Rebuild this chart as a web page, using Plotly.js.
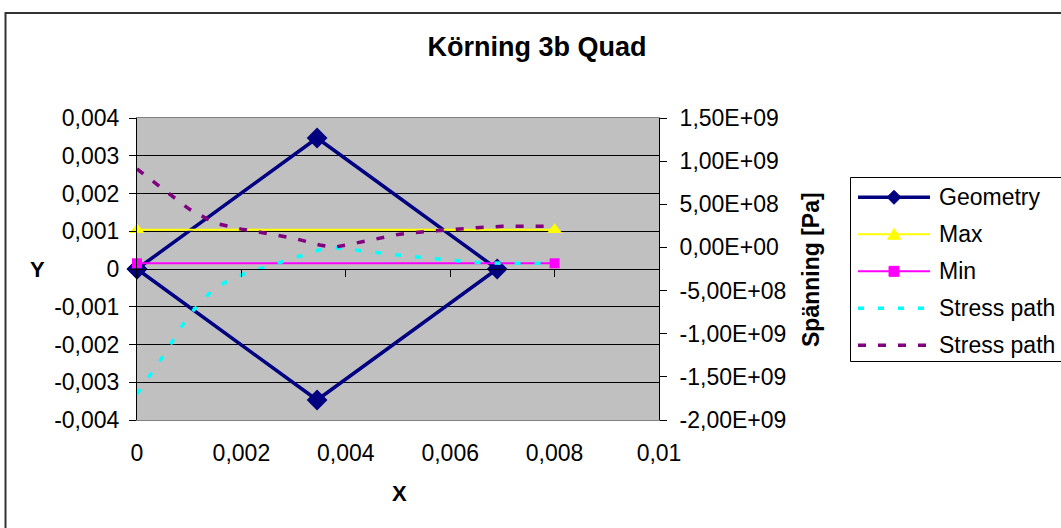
<!DOCTYPE html>
<html>
<head>
<meta charset="utf-8">
<script src="https://cdn.plot.ly/plotly-3.0.1.min.js"></script>
<style>
  html, body { margin: 0; padding: 0; background: #fff; }
  #chart { width: 1061px; height: 528px; }
</style>
</head>
<body>
<div id="chart"></div>
<script>
// Quad element outline (m)
const geomX = [0, 0.00345, 0.0069, 0.00345, 0];
const geomY = [0, 0.00347, 0, -0.00347, 0];

// Stress limits (Pa) along the path
const limitX = [0, 0.008];
const maxStress = [2.05e8, 2.05e8];
const minStress = [-1.84e8, -1.84e8];

// Stress paths (Pa) sampled along x
const pathX = [0, 0.0005, 0.001, 0.0015, 0.002, 0.0025, 0.003, 0.0035, 0.00375,
               0.004, 0.0045, 0.005, 0.0055, 0.006, 0.0065, 0.007, 0.0075, 0.008];
const stressPathA = [-1.70e9, -1.26e9, -7.8e8, -4.6e8, -3.17e8, -2.2e8, -1.2e8, -2.7e7, 0,
                     -1.5e7, -5.3e7, -8.8e7, -1.2e8, -1.47e8, -1.72e8, -1.84e8, -1.84e8, -1.84e8];
const stressPathB = [9.09e8, 6.8e8, 4.44e8, 2.8e8, 2.12e8, 1.61e8, 1.07e8, 2.8e7, 0,
                     2.7e7, 8.6e7, 1.5e8, 1.82e8, 2.08e8, 2.29e8, 2.44e8, 2.44e8, 2.44e8];

// Axis ticks
const xTicks = [0, 0.002, 0.004, 0.006, 0.008, 0.01];
const xTickText = ['0', '0,002', '0,004', '0,006', '0,008', '0,01'];
const yTicks = [-0.004, -0.003, -0.002, -0.001, 0, 0.001, 0.002, 0.003, 0.004];
const yTickText = ['-0,004', '-0,003', '-0,002', '-0,001', '0', '0,001', '0,002', '0,003', '0,004'];
const y2Ticks = [-2e9, -1.5e9, -1e9, -5e8, 0, 5e8, 1e9, 1.5e9];
const y2TickText = ['-2,00E+09', '-1,50E+09', '-1,00E+09', '-5,00E+08', '0,00E+00',
                    '5,00E+08', '1,00E+09', '1,50E+09'];

const FONT = 'Liberation Sans, Arial, sans-serif';
const W = 1061, H = 528;
const M = { l: 137, r: 402, t: 118, b: 108 };
const plotW = W - M.l - M.r, plotH = H - M.t - M.b;
// pixel -> paper coordinates (for frame, titles and legend)
const px = v => (v - M.l) / plotW;
const py = v => (H - M.b - v) / plotH;

const traces = [
  {
    name: 'Geometry', x: geomX, y: geomY, xaxis: 'x', yaxis: 'y',
    mode: 'lines+markers', cliponaxis: false,
    line: { color: '#000080', width: 3.5 },
    marker: { symbol: 'diamond', size: 16, color: '#000080' }
  },
  {
    name: 'Max', x: limitX, y: maxStress, xaxis: 'x2', yaxis: 'y2',
    mode: 'lines+markers', cliponaxis: false,
    line: { color: '#FFFF00', width: 2 },
    marker: { symbol: 'triangle-up', size: 13, color: '#FFFF00' }
  },
  {
    name: 'Min', x: limitX, y: minStress, xaxis: 'x2', yaxis: 'y2',
    mode: 'lines+markers', cliponaxis: false,
    line: { color: '#FF00FF', width: 2 },
    marker: { symbol: 'square', size: 10, color: '#FF00FF' }
  },
  {
    name: 'Stress path', x: pathX, y: stressPathA, xaxis: 'x2', yaxis: 'y2',
    mode: 'lines', cliponaxis: false,
    line: { color: '#00FFFF', width: 3.5, dash: '6px,14px' }
  },
  {
    name: 'Stress path', x: pathX, y: stressPathB, xaxis: 'x2', yaxis: 'y2',
    mode: 'lines', cliponaxis: false,
    line: { color: '#800080', width: 3.5, dash: '8px,12px' }
  }
];

// Legend box, drawn by hand so it can run past the right edge of the page
const shapes = [
  // outer chart frame
  { type: 'rect', xref: 'paper', yref: 'paper',
    x0: px(5.5), x1: px(1080), y0: py(560), y1: py(13),
    line: { color: '#333', width: 2 }, fillcolor: 'rgba(0,0,0,0)', layer: 'below' },
  { type: 'rect', xref: 'paper', yref: 'paper',
    x0: px(850.5), x1: px(1080), y0: py(361.5), y1: py(177.5),
    line: { color: '#000', width: 1 }, fillcolor: '#fff', layer: 'above' }
];
const annotations = [];
const legTop = 197.3, legStep = 37, lineX0 = 858, lineX1 = 930, mkX = 894, textX = 937;

function markerPath(symbol, cx, cy) {
  if (symbol === 'diamond') {
    const r = 7;
    return `M${px(cx - r)},${py(cy)} L${px(cx)},${py(cy - r)} L${px(cx + r)},${py(cy)} L${px(cx)},${py(cy + r)} Z`;
  }
  if (symbol === 'triangle-up') {
    const r = 6.5;
    return `M${px(cx - r)},${py(cy + 5)} L${px(cx)},${py(cy - 6)} L${px(cx + r)},${py(cy + 5)} Z`;
  }
  const r = 5;
  return `M${px(cx - r)},${py(cy - r)} L${px(cx + r)},${py(cy - r)} L${px(cx + r)},${py(cy + r)} L${px(cx - r)},${py(cy + r)} Z`;
}

traces.forEach((t, i) => {
  const cy = legTop + i * legStep;
  shapes.push({
    type: 'line', xref: 'paper', yref: 'paper', layer: 'above',
    x0: px(lineX0), x1: px(lineX1), y0: py(cy), y1: py(cy),
    line: { color: t.line.color, width: t.line.width, dash: t.line.dash || 'solid' }
  });
  if (t.marker) {
    shapes.push({
      type: 'path', xref: 'paper', yref: 'paper', layer: 'above',
      path: markerPath(t.marker.symbol, mkX, cy),
      fillcolor: t.marker.color, line: { color: t.marker.color, width: 1 }
    });
  }
  annotations.push({
    text: t.name, xref: 'paper', yref: 'paper', x: px(textX), y: py(cy),
    xanchor: 'left', yanchor: 'middle', showarrow: false,
    font: { family: FONT, size: 23, color: '#000' }
  });
});

// Axis titles
annotations.push(
  { text: '<b>Y</b>', xref: 'paper', yref: 'paper', x: px(37), y: py(269),
    showarrow: false, xanchor: 'center', yanchor: 'middle',
    font: { family: FONT, size: 22, color: '#000' } },
  { text: '<b>X</b>', xref: 'paper', yref: 'paper', x: px(399), y: py(493),
    showarrow: false, xanchor: 'center', yanchor: 'middle',
    font: { family: FONT, size: 22, color: '#000' } },
  { text: '<b>Spänning [Pa]</b>', xref: 'paper', yref: 'paper', x: px(811), y: py(270),
    showarrow: false, xanchor: 'center', yanchor: 'middle', textangle: -90,
    font: { family: FONT, size: 23, color: '#000' } }
);

const tickFont = { family: FONT, size: 23, color: '#000' };

const layout = {
  width: W, height: H,
  margin: { l: M.l, r: M.r, t: M.t, b: M.b, pad: 0 },
  paper_bgcolor: '#fff',
  plot_bgcolor: '#C0C0C0',
  showlegend: false,
  title: {
    text: '<b>Körning 3b Quad</b>',
    font: { family: FONT, size: 27, color: '#000' },
    x: 537 / W, xanchor: 'center', xref: 'container',
    y: 1 - 47 / H, yanchor: 'middle', yref: 'container'
  },
  xaxis: {
    range: [0, 0.01], tickvals: xTicks, ticktext: xTickText,
    ticks: '', showgrid: false, zeroline: false,
    showline: true, linecolor: '#808080', linewidth: 1, mirror: true,
    tickfont: tickFont, ticklabelstandoff: 12, fixedrange: true
  },
  xaxis2: {
    overlaying: 'x', matches: 'x', anchor: 'free', position: 0.5, side: 'bottom',
    range: [0, 0.01], tickvals: xTicks, showticklabels: false,
    ticks: 'outside', ticklen: 7, tickcolor: '#000', tickwidth: 1,
    showline: true, linecolor: '#000', linewidth: 1,
    showgrid: false, zeroline: false
  },
  yaxis: {
    range: [-0.004, 0.004], tickvals: yTicks, ticktext: yTickText,
    ticks: 'outside', ticklen: 7, tickcolor: '#000', tickwidth: 1,
    showline: true, linecolor: '#000', linewidth: 1,
    showgrid: true, gridcolor: '#000', gridwidth: 1, zeroline: false,
    tickfont: tickFont, ticklabelstandoff: 5
  },
  yaxis2: {
    overlaying: 'y', anchor: 'x2', side: 'right',
    range: [-2e9, 1.5e9], tickvals: y2Ticks, ticktext: y2TickText,
    ticks: 'outside', ticklen: 7, tickcolor: '#000', tickwidth: 1,
    showline: true, linecolor: '#000', linewidth: 1,
    showgrid: false, zeroline: false,
    tickfont: tickFont, ticklabelstandoff: 8
  },
  annotations: annotations,
  shapes: shapes
};

Plotly.newPlot('chart', traces, layout, { displayModeBar: false, staticPlot: true });
</script>
</body>
</html>
